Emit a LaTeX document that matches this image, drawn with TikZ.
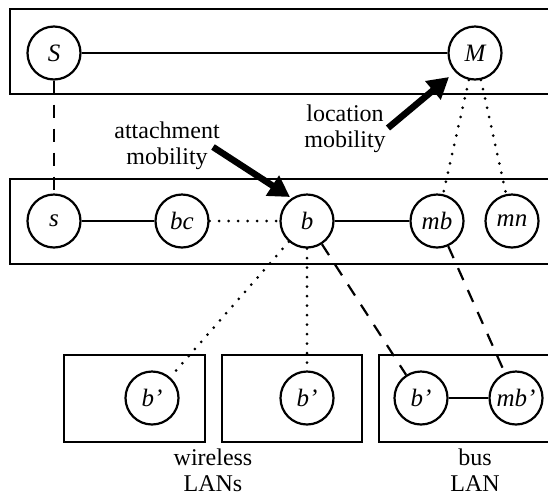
\documentclass[tikz,border=0pt]{standalone}
\usepackage{fontspec}
\setmainfont{Liberation Serif}
\usetikzlibrary{arrows.meta}
\tikzset{
  host/.style={circle, draw, line width=2.2pt, minimum size=53pt, inner sep=0pt,
    font=\fontsize{25}{27}\selectfont\itshape},
  frame/.style={draw, line width=2.4pt},
  solidlink/.style={line width=2.2pt},
  dashlink/.style={line width=2.2pt, dash pattern=on 13pt off 11pt},
  dotlink/.style={line width=3pt, line cap=round, dash pattern=on 0pt off 9.5pt},
  caption/.style={align=center, font=\fontsize{24}{26}\selectfont},
  bigarrow/.style={line width=6.5pt, -{Triangle[length=21pt,width=23pt]}}
}
\begin{document}
\begin{tikzpicture}[x=1pt,y=-1pt]
\clip (0,0) rectangle (548,499);
\fill[white] (0,0) rectangle (548,499);

% network layers
\draw[frame] (10,9) rectangle (570,94);
\draw[frame] (10,179) rectangle (570,264);
\draw[frame] (64,355) rectangle (205,442);
\draw[frame] (222,355) rectangle (362,442);
\draw[frame] (379,355) rectangle (570,442);

% hosts and routers
\node[host] (S) at (54,53) {S};
\node[host] (M) at (475,53) {M};
\node[host] (s) at (54,221) {s};
\node[host] (bc) at (182,221) {bc};
\node[host] (b) at (307,221) {b};
\node[host] (mb) at (437,221) {mb};
\node[host] (mn) at (512,221) {mn};
\node[host] (b1) at (152,398) {b’};
\node[host] (b2) at (307,398) {b’};
\node[host] (b3) at (421,398) {b’};
\node[host] (mb2) at (516,398) {mb’};

% links
\draw[solidlink] (S) -- (M);
\draw[dashlink] (S) -- (s);
\draw[solidlink] (s) -- (bc);
\draw[dotlink] (bc) -- (b);
\draw[solidlink] (b) -- (mb);
\draw[dotlink] (M) -- (mb);
\draw[dotlink] (M) -- (mn);
\draw[dotlink] (b) -- (b1);
\draw[dotlink] (b) -- (b2);
\draw[dashlink] (b) -- (b3);
\draw[dashlink] (mb) -- (mb2);
\draw[solidlink] (b3) -- (mb2);

% captions
\node[caption] (att) at (167,146) {attachment\\mobility};
\node[caption] (loc) at (345,129) {location\\mobility};
\node[caption] (wl) at (213,470) {wireless\\LANs};
\node[caption] (bl) at (475,470) {bus\\LAN};

% mobility arrows
\coordinate (attfrom) at (213,147);
\coordinate (attto) at (290,197);
\coordinate (locfrom) at (388,128);
\coordinate (locto) at (449,77);
\draw[bigarrow] (attfrom) -- (attto);
\draw[bigarrow] (locfrom) -- (locto);
\end{tikzpicture}
\end{document}
